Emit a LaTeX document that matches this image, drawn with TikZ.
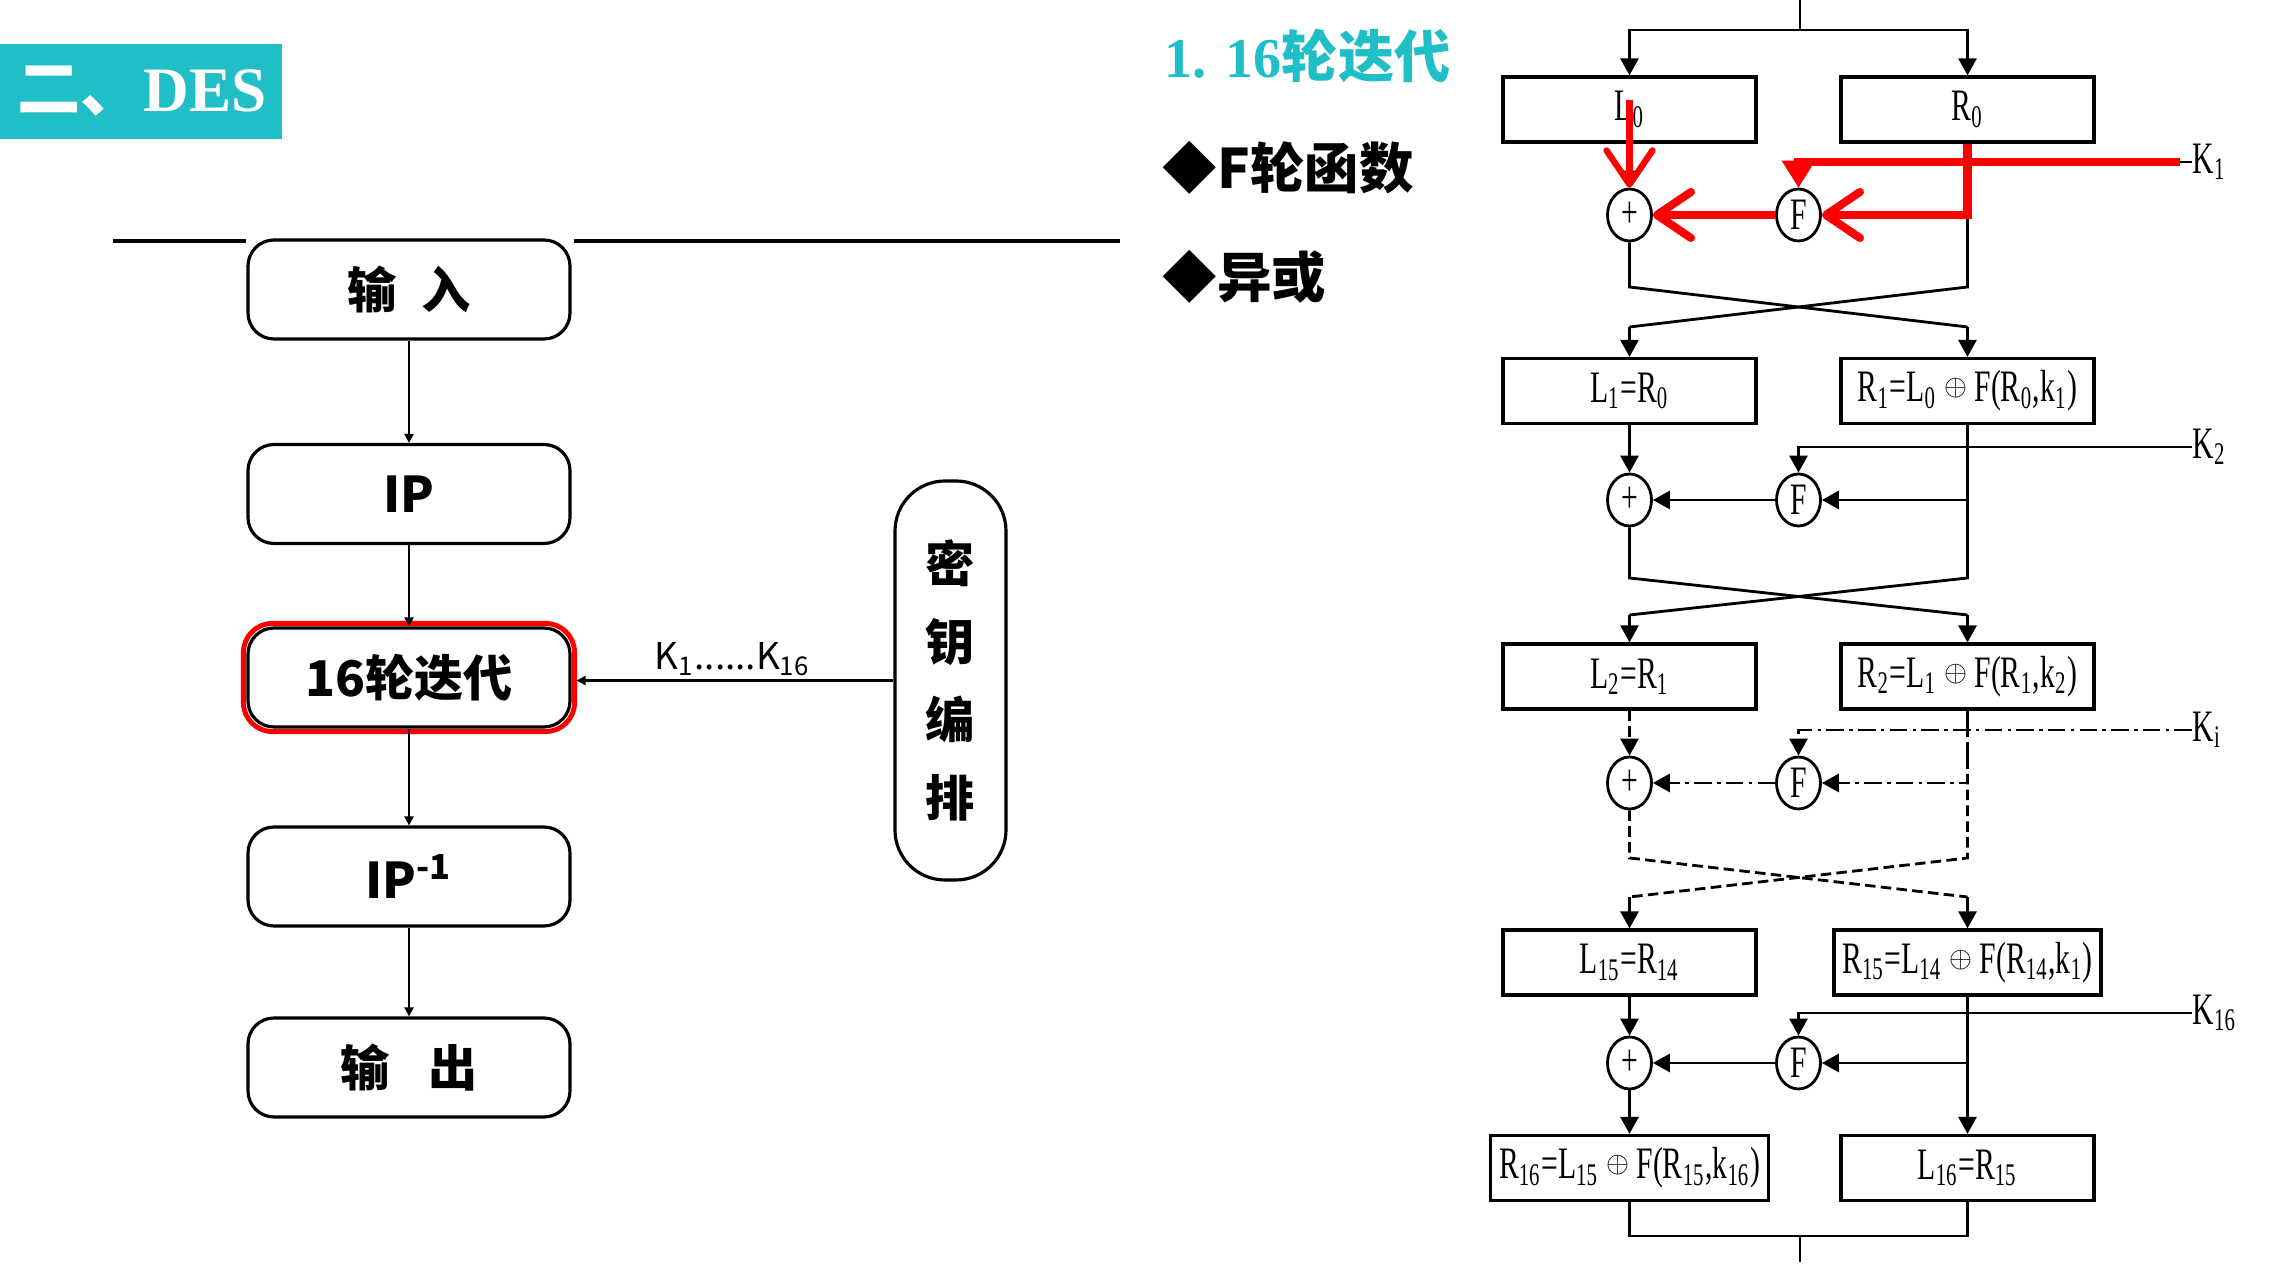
\documentclass[tikz,border=0pt]{standalone}
\usepackage{fontspec}
\setmainfont{Liberation Serif}
\newfontfamily\cjk{Noto Sans CJK SC}
\newfontfamily\tnr[FakeStretch=0.66]{Liberation Serif}
\usepackage{xcolor}
\usepackage{tikz}
\usetikzlibrary{arrows.meta}
\usetikzlibrary{shapes.geometric}
\definecolor{desteal}{RGB}{32,190,198}
\definecolor{desred}{RGB}{255,0,0}
\newcommand{\xo}{\raisebox{0.3ex}{\scalebox{0.7}{$\oplus$}}}

\tikzset{
  flowbox/.style={draw, line width=0.9pt, rounded corners=2.6mm, minimum width=32.2mm, minimum height=9.9mm, font=\cjk\bfseries\fontsize{14}{16}\selectfont},
  flowarr/.style={line width=0.6pt, -{Triangle[length=0.9mm,width=0.9mm]}},
  rbox/.style={draw, line width=0.9pt, minimum width=25.3mm, minimum height=6.5mm, inner sep=0pt, font=\tnr\fontsize{12.8}{14}\selectfont},
  op/.style={draw, ellipse, line width=0.8pt, minimum width=4.4mm, minimum height=5.2mm, inner sep=0pt, font=\tnr\fontsize{12.8}{14}\selectfont},
  klabel/.style={anchor=west, inner sep=0pt, font=\tnr\fontsize{12.8}{14}\selectfont},
  ln/.style={line width=0.8pt},
  arr/.style={line width=0.8pt, -{Triangle[length=1.7mm,width=1.8mm]}},
  dd/.style={dash pattern=on 5pt off 1.5pt on 1pt off 1.5pt},
  ds/.style={dash pattern=on 3pt off 1.5pt},
  redln/.style={desred, line width=2.3pt},
  redbarb/.style={redln, -{Straight Barb[length=3.4mm,width=4.6mm,round]}},
}

\begin{document}
\begin{tikzpicture}[x=0.1mm, y=-0.1mm]
    \path[fill=white] (0,0) rectangle (2283,1276);
    \useasboundingbox (0,0) rectangle (2283,1276);

    % header and titles
    \fill[desteal] (0,44) rectangle (282,139);
    \node[text=white, font=\fontsize{18}{20}\selectfont] (sec) at (142,91) {{\cjk\bfseries 二、}{\bfseries DES}};
    \node[anchor=west, inner sep=0pt, text=desteal, font=\fontsize{16}{18}\selectfont] (title) at (1164,56) {{\bfseries 1. 16}{\cjk\bfseries 轮迭代}};
    \node[anchor=west, inner sep=0pt, font=\cjk\bfseries\fontsize{15.5}{18}\selectfont] (fround) at (1162,168) {◆F轮函数};
    \node[anchor=west, inner sep=0pt, font=\cjk\bfseries\fontsize{15.5}{18}\selectfont] (xorlab) at (1162,277) {◆异或};

    % left: overall flow
    \draw[line width=0.9pt] (113,241) -- (246,241);
    \draw[line width=0.9pt] (574,241) -- (1120,241);
    \node[flowbox] (in) at (409,289.5) {输\hspace{0.5em}入};
    \node[flowbox] (ip) at (409,494) {IP};
    \node[flowbox] (iter) at (409,677.5) {16轮迭代};
    \node[flowbox] (ipinv) at (409,876.5) {IP\textsuperscript{-1}};
    \node[flowbox] (out) at (409,1067.5) {输\hspace{0.8em}出};
    \draw[desred, line width=1.4pt, rounded corners=2.9mm] ([shift={(-3,-3)}]iter.north west) rectangle ([shift={(3,3)}]iter.south east);
    \node[draw, line width=0.9pt, rounded corners=5mm, minimum width=11.1mm, minimum height=39.9mm, align=center, font=\cjk\bfseries\fontsize{14}{22.2}\selectfont] (key) at (950.5,680.5) {密\\钥\\编\\排};
    \draw[flowarr] (in) -- (ip);
    \draw[flowarr] (ip) -- (iter);
    \draw[flowarr] (iter) -- (ipinv);
    \draw[flowarr] (ipinv) -- (out);
    \draw[flowarr, shorten >=0.5mm] (key.west) -- (key.west -| iter.east)
      node[midway, above, inner sep=0.4mm, font=\cjk\fontsize{10.5}{12}\selectfont] {K\textsubscript{1}......K\textsubscript{16}};

    % right: sixteen rounds
    \coordinate (top) at (1800,0);
    \coordinate (c1t) at (1800,287);
    \coordinate (c1u) at (1800,327);
    \coordinate (c2t) at (1800,578);
    \coordinate (c2u) at (1800,615);
    \coordinate (c3t) at (1800,858);
    \coordinate (c3u) at (1800,897);
    \coordinate (bot) at (1800,1236);
    \node[rbox] (L0) at (1629.5,109.5) {L\textsubscript{0}};
    \node[rbox] (R0) at (1967.5,109.5) {R\textsubscript{0}};
    \draw[ln] (top) -- ++(0,30) coordinate (split);
    \draw[arr] (split) -| (L0.north);
    \draw[arr] (split) -| (R0.north);

    % round 1
    \node[op] (x1) at (1629.5,215) {+};
    \node[op] (f1) at (1798.5,215) {F};
    \node[klabel] (k1) at (2192,162) {K\textsubscript{1}};
    \draw[arr] (L0) -- (x1);
    \draw[arr] (R0.south) |- (f1.east);
    \draw[arr] (k1.west) -| (f1.north);
    \draw[arr] (f1) -- (x1);
    \draw[ln] (x1.south) -- (x1.south |- c1t) -- (R0.south |- c1u);
    \draw[ln] (R0.south) -- (R0.south |- c1t) -- (x1.south |- c1u);
    \node[rbox] (L1) at (1629.5,391) {L\textsubscript{1}=R\textsubscript{0}};
    \node[rbox] (R1) at (1967.5,391) {R\textsubscript{1}=L\textsubscript{0} \xo{} F(R\textsubscript{0},k\textsubscript{1})};
    \draw[arr] (x1.south |- c1u) -- (L1);
    \draw[arr] (R0.south |- c1u) -- (R1);

    % round 2
    \node[op] (x2) at (1629.5,500) {+};
    \node[op] (f2) at (1798.5,500) {F};
    \node[klabel] (k2) at (2192,447) {K\textsubscript{2}};
    \draw[arr] (L1) -- (x2);
    \draw[arr] (R1.south) |- (f2.east);
    \draw[arr] (k2.west) -| (f2.north);
    \draw[arr] (f2) -- (x2);
    \draw[ln] (x2.south) -- (x2.south |- c2t) -- (R1.south |- c2u);
    \draw[ln] (R1.south) -- (R1.south |- c2t) -- (x2.south |- c2u);
    \node[rbox] (L2) at (1629.5,676.5) {L\textsubscript{2}=R\textsubscript{1}};
    \node[rbox] (R2) at (1967.5,676.5) {R\textsubscript{2}=L\textsubscript{1} \xo{} F(R\textsubscript{1},k\textsubscript{2})};
    \draw[arr] (x2.south |- c2u) -- (L2);
    \draw[arr] (R1.south |- c2u) -- (R2);

    % round i (dashed)
    \node[op] (x3) at (1629.5,783) {+};
    \node[op] (f3) at (1798.5,783) {F};
    \node[klabel] (ki) at (2192,730) {K\textsubscript{i}};
    \draw[arr, ds] (L2) -- (x3);
    \draw[arr, dd] (R2.south) |- (f3.east);
    \draw[arr, dd] (ki.west) -| (f3.north);
    \draw[arr, dd] (f3) -- (x3);
    \draw[ln, ds] (x3.south) -- (x3.south |- c3t) -- (R2.south |- c3u);
    \draw[ln, ds] (R2.south) -- (R2.south |- c3t) -- (x3.south |- c3u);
    \node[rbox] (L15) at (1629.5,962.5) {L\textsubscript{15}=R\textsubscript{14}};
    \node[rbox, minimum width=26.7mm] (R15) at (1967.5,962.5) {R\textsubscript{15}=L\textsubscript{14} \xo{} F(R\textsubscript{14},k\textsubscript{1})};
    \draw[arr] (x3.south |- c3u) -- (L15);
    \draw[arr] (R2.south |- c3u) -- (R15);

    % round 16
    \node[op] (x16) at (1629.5,1063) {+};
    \node[op] (f16) at (1798.5,1063) {F};
    \node[klabel] (k16) at (2192,1013) {K\textsubscript{16}};
    \draw[arr] (L15) -- (x16);
    \draw[arr] (R15.south) |- (f16.east);
    \draw[arr] (k16.west) -| (f16.north);
    \draw[arr] (f16) -- (x16);
    \node[rbox, minimum width=27.8mm] (R16) at (1629.5,1168) {R\textsubscript{16}=L\textsubscript{15} \xo{} F(R\textsubscript{15},k\textsubscript{16})};
    \node[rbox] (L16) at (1967.5,1168) {L\textsubscript{16}=R\textsubscript{15}};
    \draw[arr] (x16) -- (R16);
    \draw[arr] (R15) -- (L16);
    \draw[ln] (R16.south) |- (bot) -| (L16.south);
    \draw[ln] (bot) -- ++(0,26);

    % red marks on round 1
    \coordinate (l0red) at (1629.5,100);
    \coordinate (k1red) at (2180,162);
    \draw[redbarb, line width=1.8pt] (l0red) -- (x1.north);
    \draw[redln, -{Triangle[length=2.7mm,width=3.2mm]}] (k1red) -| (f1.north);
    \draw[redbarb] (R0.south) |- (f1.east);
    \draw[redbarb] (f1.west) -- (x1.east);
\end{tikzpicture}
\end{document}
